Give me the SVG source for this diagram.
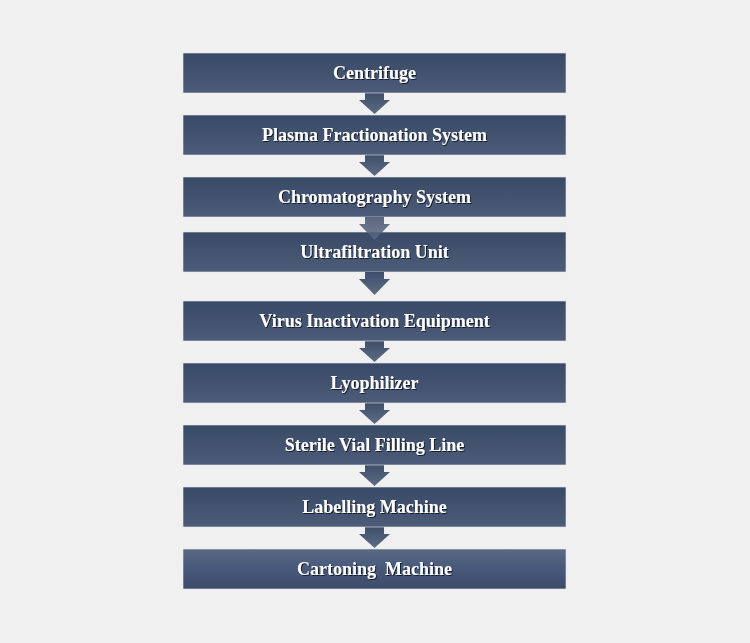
<svg xmlns="http://www.w3.org/2000/svg" width="750" height="643" viewBox="0 0 750 643">
<defs>
<linearGradient id="g" x1="0" y1="0" x2="0" y2="1">
<stop offset="0" stop-color="#394a66"/>
<stop offset="1" stop-color="#4d5c78"/>
</linearGradient>
<linearGradient id="gr" x1="0" y1="0" x2="0" y2="1">
<stop offset="0" stop-color="#5a6a84"/>
<stop offset="0.5" stop-color="#47587a"/>
<stop offset="1" stop-color="#3c4b68"/>
</linearGradient>
<linearGradient id="ga" x1="0" y1="0" x2="0" y2="1">
<stop offset="0" stop-color="#3f4e6a"/>
<stop offset="1" stop-color="#5e6d84"/>
</linearGradient>
<filter id="sh" x="-10%" y="-30%" width="120%" height="160%">
<feDropShadow dx="1" dy="1" stdDeviation="0.6" flood-color="#0a1222" flood-opacity="0.9"/>
</filter>
</defs>
<style>
.box{fill:url(#g);stroke:#e9ebee;stroke-width:0.6}
.lbl{font-family:"Liberation Serif","Times New Roman",serif;font-weight:bold;font-size:18px;fill:#ffffff;text-anchor:middle;filter:url(#sh);white-space:pre}
.arr{fill:url(#ga)}
</style>
<rect width="750" height="643" fill="#f0f0f0"/>
<g id="connectors">
<path class="arr" d="M365,93 H384 V100 H390 L374.5,114 L359,100 H365 Z"/>
<path class="arr" d="M365,155 H384 V162 H390 L374.5,176 L359,162 H365 Z"/>
<path class="arr" d="M365,341 H384 V348 H390 L374.5,362 L359,348 H365 Z"/>
<path class="arr" d="M365,403 H384 V410 H390 L374.5,424 L359,410 H365 Z"/>
<path class="arr" d="M365,465 H384 V472 H390 L374.5,486 L359,472 H365 Z"/>
<path class="arr" d="M365,527 H384 V534 H390 L374.5,548 L359,534 H365 Z"/>
</g>
<g id="n1"><rect class="box" x="183" y="53" width="383" height="40"/><text class="lbl" x="374.5" y="79">Centrifuge</text></g>
<g id="n2"><rect class="box" x="183" y="115" width="383" height="40"/><text class="lbl" x="374.5" y="141">Plasma Fractionation System</text></g>
<g id="n3"><rect class="box" x="183" y="177" width="383" height="40"/><text class="lbl" x="374.5" y="203">Chromatography System</text></g>
<g id="n4"><rect class="box" x="183" y="232" width="383" height="40"/><text class="lbl" x="374.5" y="258">Ultrafiltration Unit</text></g>
<g id="n5"><rect class="box" x="183" y="301" width="383" height="40"/><text class="lbl" x="374.5" y="327">Virus Inactivation Equipment</text></g>
<g id="n6"><rect class="box" x="183" y="363" width="383" height="40"/><text class="lbl" x="374.5" y="389">Lyophilizer</text></g>
<g id="n7"><rect class="box" x="183" y="425" width="383" height="40"/><text class="lbl" x="374.5" y="451">Sterile Vial Filling Line</text></g>
<g id="n8"><rect class="box" x="183" y="487" width="383" height="40"/><text class="lbl" x="374.5" y="513">Labelling Machine</text></g>
<g id="n9"><rect class="box" x="183" y="549" width="383" height="40" style="fill:url(#gr)"/><text class="lbl" x="374.5" y="575">Cartoning  Machine</text></g>
<g id="connectors-overlap">
<path class="arr" d="M365,217 H384 V224 H390 L374.5,240 L359,224 H365 Z" opacity="0.85"/>
<path class="arr" d="M365,272 H384 V279 H390 L374.5,295 L359,279 H365 Z"/>
</g>
</svg>
